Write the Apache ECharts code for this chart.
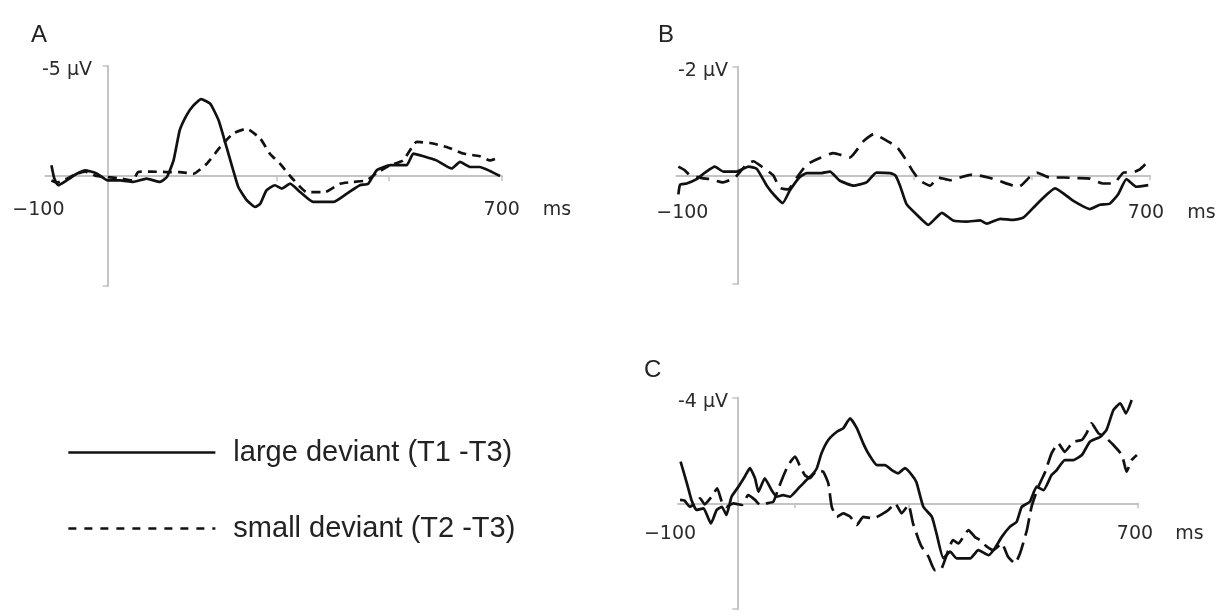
<!DOCTYPE html>
<html><head><meta charset="utf-8">
<script src="https://cdn.jsdelivr.net/npm/echarts@6/dist/echarts.min.js"></script>
<style>html,body{margin:0;padding:0;background:#fff}#c{width:1219px;height:612px}</style>
</head><body><div id="c"></div>
<script>
// ---- data (time in ms, amplitude in µV; negative plotted upward) ----
const seriesNames = ['large deviant (T1 -T3)', 'small deviant (T2 -T3)'];
const xTickValues = [100, 300, 500, 700];
const xLabelValues = [-100, 700];
const panelLetters = ['A', 'B', 'C'];
const yLimits = [5, 2, 4];
const yTopLabels = ['-5 µV', '-2 µV', '-4 µV'];
const xUnit = 'ms';

const aLarge = [[-100,-0.49],[-95,0.1],[-88,0.42],[-73,0.2],[-55,-0.1],[-40,-0.26],[-20,-0.12],[0,0.2],[22,0.2],[45,0.27],[69,0.12],[93,0.27],[105,0.05],[117,-0.71],[128,-2.08],[140,-2.76],[152,-3.2],[166,-3.49],[182,-3.29],[197,-2.53],[211,-1.32],[223,-0.26],[232,0.5],[247,1.1],[262,1.41],[271,1.26],[282,0.65],[297,0.42],[309,0.57],[324,0.35],[342,0.73],[365,1.18],[401,1.18],[425,0.8],[448,0.42],[463,0.35],[478,-0.26],[502,-0.49],[531,-0.49],[543,-1.02],[561,-0.9],[584,-0.71],[611,-0.34],[626,-0.64],[644,-0.41],[661,-0.41],[679,-0.23],[697,0]];
const aSmall = [[-100,0.2],[-90,0.3],[-75,0.15],[-55,-0.1],[-40,-0.2],[-20,0],[0,0.05],[20,0.1],[45,0.2],[54,-0.18],[75,-0.2],[105,-0.18],[128,-0.18],[152,-0.1],[176,-0.56],[200,-1.32],[223,-1.94],[247,-2.15],[271,-1.7],[288,-1.02],[306,-0.56],[324,0],[342,0.5],[353,0.73],[386,0.73],[413,0.35],[436,0.27],[460,0.2],[478,-0.14],[502,-0.49],[525,-0.71],[549,-1.55],[573,-1.5],[602,-1.32],[632,-1.02],[661,-0.9],[679,-0.71],[697,-0.86]];

const bLarge = [[-100,0.35],[-97,0.17],[-86,0.15],[-69,0.07],[-55,-0.05],[-38,-0.16],[-24,-0.07],[-1,-0.07],[19,-0.16],[33,-0.12],[50,0.19],[64,0.38],[77,0.51],[89,0.28],[106,0.03],[118,-0.04],[140,-0.04],[157,-0.07],[174,0.1],[197,0.19],[219,0.13],[236,-0.05],[259,-0.04],[268,0],[276,0.19],[287,0.53],[304,0.72],[324,0.91],[347,0.69],[366,0.83],[389,0.85],[412,0.83],[423,0.89],[446,0.8],[468,0.82],[485,0.78],[508,0.53],[539,0.24],[570,0.47],[598,0.62],[615,0.54],[632,0.52],[646,0.35],[660,0.07],[677,0.21],[697,0.18]];
const bSmall = [[-100,-0.16],[-90,-0.1],[-80,0],[-60,0.05],[-46,0.07],[-24,0.13],[-4,0.04],[13,-0.17],[27,-0.26],[44,-0.14],[61,0],[72,0.23],[86,0.26],[101,0.04],[118,-0.2],[140,-0.32],[163,-0.41],[191,-0.33],[214,-0.63],[231,-0.76],[253,-0.64],[270,-0.53],[284,-0.32],[298,-0.07],[310,0.1],[327,0.19],[341,0.04],[361,0.09],[395,-0.01],[409,0],[429,0.05],[446,0.11],[468,0.19],[479,0.2],[496,0.03],[508,-0.05],[530,0.04],[553,0.04],[576,0.05],[598,0.06],[620,0.15],[638,0.15],[655,-0.05],[672,-0.06],[683,-0.11],[699,-0.28]];

const cLarge = [[-99,-1.58],[-88,-0.76],[-80,-0.13],[-71,0.25],[-59,0.19],[-46,0.76],[-36,0.25],[-27,0.13],[-19,0.44],[-10,-0.25],[2,-0.63],[13,-1.01],[22,-1.33],[31,-0.95],[37,-0.44],[48,-0.95],[60,-0.5],[69,-0.25],[80,-0.31],[92,-0.25],[104,-0.5],[118,-0.82],[130,-1.07],[139,-1.33],[147,-1.89],[159,-2.4],[174,-2.71],[185,-2.84],[197,-3.22],[209,-2.84],[220,-2.27],[229,-1.89],[244,-1.45],[258,-1.45],[270,-1.26],[281,-1.14],[293,-1.33],[305,-1.07],[313,-0.8],[325,0.13],[340,0.51],[348,1.14],[360,2.08],[372,1.83],[383,2.08],[407,2.08],[421,1.77],[439,1.96],[450,1.7],[462,1.27],[476,0.89],[488,0.7],[497,0.13],[511,-0.06],[523,-0.63],[535,-0.5],[549,-1.07],[558,-1.26],[572,-1.64],[587,-1.64],[602,-1.83],[616,-2.33],[634,-2.52],[645,-2.78],[657,-3.53],[669,-3.79],[679,-3.41],[689,-3.91]];
const cSmall = [[-100,-0.13],[-92,-0.1],[-83,0.13],[-74,0],[-65,-0.19],[-57,0.04],[-45,-0.25],[-35,-0.57],[-27,-0.06],[-19,0.13],[-7,0],[8,0.06],[19,-0.31],[31,-0.13],[40,0.06],[51,0],[63,-0.06],[72,-0.57],[80,-1.01],[89,-1.45],[101,-1.77],[110,-1.39],[118,-1.07],[127,-0.95],[139,-1.24],[150,-1.2],[159,-0.76],[165,0.13],[174,0.51],[185,0.38],[197,0.5],[209,0.82],[220,0.51],[238,0.57],[255,0.38],[264,0.25],[276,0],[287,0.38],[299,0.06],[307,0.76],[316,1.33],[322,1.64],[334,2.02],[345,2.53],[357,2.46],[377,1.39],[386,1.52],[404,1.01],[415,1.27],[424,1.39],[436,1.64],[447,1.77],[462,1.52],[473,2.02],[485,2.27],[494,1.89],[506,1.01],[514,0.13],[526,-0.63],[538,-1.2],[549,-1.89],[561,-2.27],[572,-1.95],[587,-2.33],[602,-2.4],[610,-2.65],[619,-3.03],[631,-2.65],[642,-2.52],[657,-2.21],[672,-1.83],[680,-1.2],[689,-1.64],[698,-1.83]];

const largeData = [aLarge, bLarge, cLarge];
const smallData = [aSmall, bSmall, cSmall];

// ---- layout / style ----
const AXIS_GRAY = '#c4c4c4';
const TEXT = '#2b2b2b';
const LFONT = 'DejaVu Sans';
const LSIZE = 19;
const layout = [
  {grid:{left:45.8, right:717.3, top:66, bottom:326}, xMin:-110, ylMargin:-46.2, xlMargin:-85,
   minPad:[0,26,0,0], maxPadL:51.4, unitGap:23, dash:[9,6], title:{left:26, top:18}},
  {grid:{left:676.6, right:69, top:66.7, bottom:328}, xMin:-103, ylMargin:-51.4, xlMargin:-80,
   minPad:[0,0,0,8], maxPadL:43.4, unitGap:23, dash:[13,8], title:{left:653, top:18}},
  {grid:{left:678.3, right:81, top:397.7, bottom:3}, xMin:-103, ylMargin:-49.7, xlMargin:-84,
   minPad:[0,20,0,0], maxPadL:44.4, unitGap:22, dash:[18,7], title:{left:639, top:353}}
];

const grids = [], xAxes = [], yAxes = [], series = [], titles = [];
layout.forEach((p, i) => {
  grids.push(Object.assign({outerBoundsMode:'none', containLabel:false}, p.grid));
  titles.push({text: panelLetters[i], left: p.title.left, top: p.title.top,
    textStyle:{fontFamily:'Liberation Sans', fontSize:24, fontWeight:'normal', color:'#222'}});
  const lineStyle = {color: AXIS_GRAY, width: 2};
  const tickStyle = {color: AXIS_GRAY, width: 1.5};
  const txt = {fontFamily:LFONT, fontSize:LSIZE, color:TEXT};
  const baseX = {gridIndex:i, type:'value', min:p.xMin, max:700, splitLine:{show:false}};
  xAxes.push(Object.assign({}, baseX, {
    axisLine:{onZero:true, lineStyle},
    axisTick:{show:true, customValues:xTickValues, length:5, lineStyle:tickStyle},
    axisLabel:{show:true, customValues:xLabelValues, margin:p.xlMargin,
      formatter: v => v === -100 ? '{m|−100}' : '{n|700}{u|' + xUnit + '}',
      rich:{
        m:Object.assign({padding:p.minPad}, txt),
        n:Object.assign({padding:[0,0,0,p.maxPadL]}, txt),
        u:Object.assign({padding:[0,0,0,p.unitGap]}, txt)
      }}
  }));
  xAxes.push(Object.assign({}, baseX, {
    axisLine:{onZero:true, lineStyle},
    axisTick:{show:true, inside:true, customValues:xTickValues, length:5, lineStyle:tickStyle},
    axisLabel:{show:false}
  }));
  const ym = yLimits[i];
  const baseY = {gridIndex:i, type:'value', inverse:true, min:-ym, max:ym, interval:ym, splitLine:{show:false}};
  yAxes.push(Object.assign({}, baseY, {
    axisLine:{onZero:true, lineStyle},
    axisTick:{show:true, length:5, lineStyle:tickStyle},
    axisLabel:{show:true, margin:p.ylMargin,
      formatter: v => v === -ym ? '{y|' + yTopLabels[i] + '}' : '',
      rich:{y:Object.assign({padding:[9,0,0,0]}, txt)}}
  }));
  yAxes.push(Object.assign({}, baseY, {
    axisLine:{onZero:true, lineStyle},
    axisTick:{show:true, inside:true, length:5, lineStyle:tickStyle},
    axisLabel:{show:false}
  }));
  series.push({
    name: seriesNames[0], type:'line', xAxisIndex:2*i, yAxisIndex:2*i,
    data: largeData[i], symbol:'none', showSymbol:false, smooth:0.15, z:4,
    itemStyle:{color:'#111'},
    lineStyle:{color:'#111', width:2.7, type:'solid'}
  });
  series.push({
    name: seriesNames[1], type:'line', xAxisIndex:2*i, yAxisIndex:2*i,
    data: smallData[i], symbol:'none', showSymbol:false, smooth:0.15, z:3,
    itemStyle:{color:'#111'},
    lineStyle:{color:'#111', width:2.7, type:p.dash}
  });
});

const chart = echarts.init(document.getElementById('c'), null, {renderer:'canvas'});
chart.setOption({
  backgroundColor:'#fff',
  animation:false,
  title: titles,
  grid: grids,
  xAxis: xAxes,
  yAxis: yAxes,
  legend: {
    orient:'vertical', left:62, top:433, itemWidth:147, itemHeight:16, itemGap:47,
    selectedMode:false,
    itemStyle:{opacity:0},
    data:[
      {name: seriesNames[0], lineStyle:{type:'solid', width:2.7, color:'#111'}, itemStyle:{opacity:0}},
      {name: seriesNames[1], lineStyle:{type:[8,8], width:2.7, color:'#111'}, itemStyle:{opacity:0}}
    ],
    textStyle:{fontFamily:'Liberation Sans', fontSize:29, color:'#222', padding:[0,0,0,13]}
  },
  series: series
});
</script></body></html>
